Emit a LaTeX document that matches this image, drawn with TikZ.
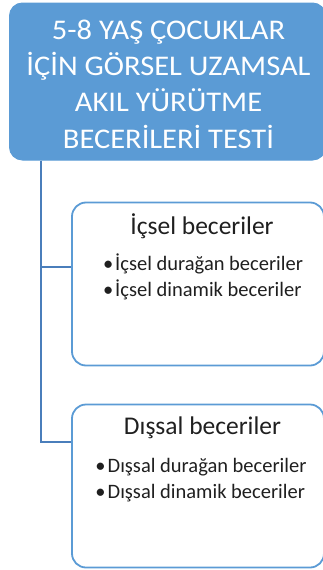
\documentclass[tikz,border=0pt]{standalone}
\usepackage{fontspec}
\setmainfont{Carlito}
\definecolor{officeblue}{HTML}{5B9BD5}
\definecolor{linkblue}{HTML}{4A7EBB}
\begin{document}
\begin{tikzpicture}[x=1pt,y=-1pt,
  titlebox/.style={draw=officeblue, fill=officeblue, rounded corners=13pt, line width=1pt,
    minimum width=316pt, minimum height=157pt, inner sep=0pt},
  skillbox/.style={draw=officeblue, rounded corners=14pt, line width=1.8pt,
    minimum width=252pt, minimum height=163pt, inner sep=0pt},
  headtext/.style={font=\fontsize{25.5}{30}\selectfont, text=black!88, inner sep=0pt},
  itemtext/.style={font=\fontsize{20.5}{26}\selectfont, text=black!88, inner sep=0pt, align=left},
  link/.style={draw=linkblue, line width=2pt}]
\useasboundingbox (0,0) rectangle (323,570);

% main title
\node[titlebox] (title) at (167.5,81.5) {};
\node[text=white, font=\fontsize{28.5}{36.3}\selectfont, align=center, inner sep=0pt,
  xscale=1.07, transform shape]
  (titletext) at (168.5,84) {5-8 YAŞ ÇOCUKLAR\\İÇİN GÖRSEL UZAMSAL\\AKIL YÜRÜTME\\BECERİLERİ TESTİ};

% first group: internal skills
\node[skillbox] (box1) at (198,284) {};
\node[headtext] (head1) at (202,226) {İçsel beceriler};
\node[itemtext] (items1) at (203,277)
  {\textbullet\hspace{2pt}İçsel durağan beceriler\\\textbullet\hspace{2pt}İçsel dinamik beceriler};

% second group: external skills
\node[skillbox] (box2) at (198,486) {};
\node[headtext] (head2) at (202.5,428) {Dışsal beceriler};
\node[itemtext] (items2) at (201,480)
  {\textbullet\hspace{2pt}Dışsal durağan beceriler\\\textbullet\hspace{2pt}Dışsal dinamik beceriler};

% tree connectors
\coordinate (spine) at ([xshift=31.5pt]title.south west);
\draw[link] (spine) |- ([yshift=-65pt]box1.north west);
\draw[link] (spine) |- ([yshift=-38pt]box2.north west);
\end{tikzpicture}
\end{document}
